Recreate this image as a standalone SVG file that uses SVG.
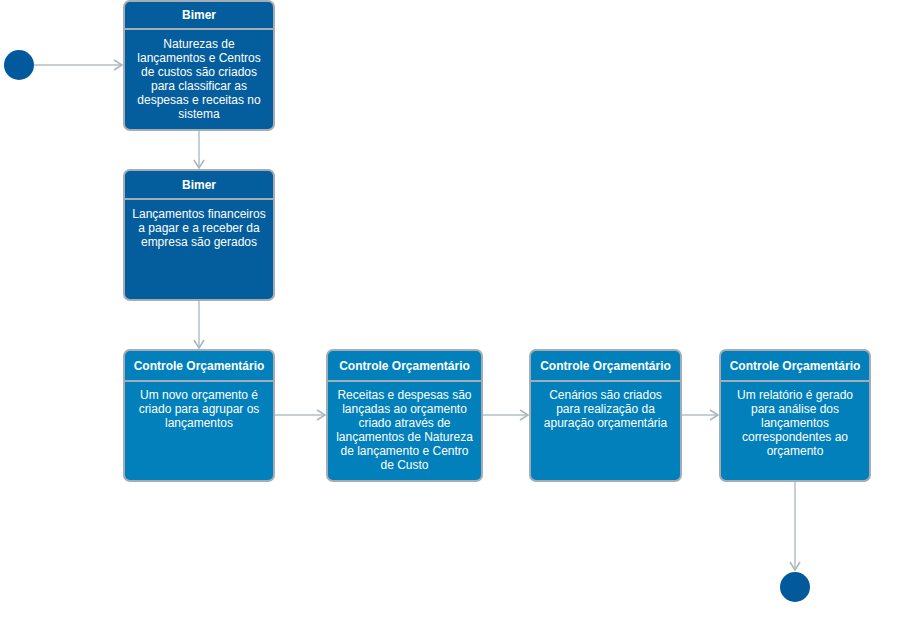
<svg xmlns="http://www.w3.org/2000/svg" width="898" height="622" viewBox="0 0 898 622">
<defs>
<style>
.dark{fill:#045d9c;stroke:#a3adb3;stroke-width:2}
.light{fill:#0180bb;stroke:#a3adb3;stroke-width:2}
.div{stroke:#a3adb3;stroke-width:2}
.h{font-family:"Liberation Sans",Arial,sans-serif;font-size:12px;font-weight:bold;fill:#fff;text-anchor:middle}
.b{font-family:"Liberation Sans",Arial,sans-serif;font-size:12px;fill:#fff;text-anchor:middle}
.c{stroke:#b3c0c6;stroke-width:1.5;fill:none;marker-end:url(#arr)}
.dot{fill:#02599c}
</style>
<marker id="arr" markerWidth="12" markerHeight="12" refX="10" refY="6" orient="auto" markerUnits="userSpaceOnUse">
<path d="M2,1 L10,6 L2,11" fill="none" stroke="#a9b6bc" stroke-width="1.5"/>
</marker>
</defs>
<g id="connectors">
<path class="c" d="M34,65 L122,65"/>
<path class="c" d="M199,130 L199,168"/>
<path class="c" d="M199,300 L199,348"/>
<path class="c" d="M274,415 L325,415"/>
<path class="c" d="M482,415 L528,415"/>
<path class="c" d="M681,415 L718,415"/>
<path class="c" d="M795,481 L795,570"/>
</g>
<g id="start"><circle class="dot" cx="19" cy="65" r="15"/></g>
<g id="end"><circle class="dot" cx="795" cy="587" r="15"/></g>
<g id="n1">
<rect class="dark" x="124" y="1" width="150" height="129" rx="6"/>
<line class="div" x1="124" y1="29" x2="274" y2="29"/>
<text class="h" x="199" y="19">Bimer</text>
<text class="b" x="199" y="48">Naturezas de</text>
<text class="b" x="199" y="62">lançamentos e Centros</text>
<text class="b" x="199" y="76">de custos são criados</text>
<text class="b" x="199" y="90">para classificar as</text>
<text class="b" x="199" y="104">despesas e receitas no</text>
<text class="b" x="199" y="118">sistema</text>
</g>
<g id="n2">
<rect class="dark" x="124" y="170" width="150" height="130" rx="6"/>
<line class="div" x1="124" y1="199" x2="274" y2="199"/>
<text class="h" x="199" y="189">Bimer</text>
<text class="b" x="199" y="218">Lançamentos financeiros</text>
<text class="b" x="199" y="232">a pagar e a receber da</text>
<text class="b" x="199" y="246">empresa são gerados</text>
</g>
<g id="n3">
<rect class="light" x="124" y="350" width="150" height="131" rx="6"/>
<line class="div" x1="124" y1="381" x2="274" y2="381"/>
<text class="h" x="199" y="370">Controle Orçamentário</text>
<text class="b" x="199" y="399">Um novo orçamento é</text>
<text class="b" x="199" y="413">criado para agrupar os</text>
<text class="b" x="199" y="427">lançamentos</text>
</g>
<g id="n4">
<rect class="light" x="327" y="350" width="155" height="131" rx="6"/>
<line class="div" x1="327" y1="381" x2="482" y2="381"/>
<text class="h" x="404.5" y="370">Controle Orçamentário</text>
<text class="b" x="404.5" y="399">Receitas e despesas são</text>
<text class="b" x="404.5" y="413">lançadas ao orçamento</text>
<text class="b" x="404.5" y="427">criado através de</text>
<text class="b" x="404.5" y="441">lançamentos de Natureza</text>
<text class="b" x="404.5" y="455">de lançamento e Centro</text>
<text class="b" x="404.5" y="469">de Custo</text>
</g>
<g id="n5">
<rect class="light" x="530" y="350" width="151" height="131" rx="6"/>
<line class="div" x1="530" y1="381" x2="681" y2="381"/>
<text class="h" x="605.5" y="370">Controle Orçamentário</text>
<text class="b" x="605.5" y="399">Cenários são criados</text>
<text class="b" x="605.5" y="413">para realização da</text>
<text class="b" x="605.5" y="427">apuração orçamentária</text>
</g>
<g id="n6">
<rect class="light" x="720" y="350" width="150" height="131" rx="6"/>
<line class="div" x1="720" y1="381" x2="870" y2="381"/>
<text class="h" x="795" y="370">Controle Orçamentário</text>
<text class="b" x="795" y="399">Um relatório é gerado</text>
<text class="b" x="795" y="413">para análise dos</text>
<text class="b" x="795" y="427">lançamentos</text>
<text class="b" x="795" y="441">correspondentes ao</text>
<text class="b" x="795" y="455">orçamento</text>
</g>
</svg>
